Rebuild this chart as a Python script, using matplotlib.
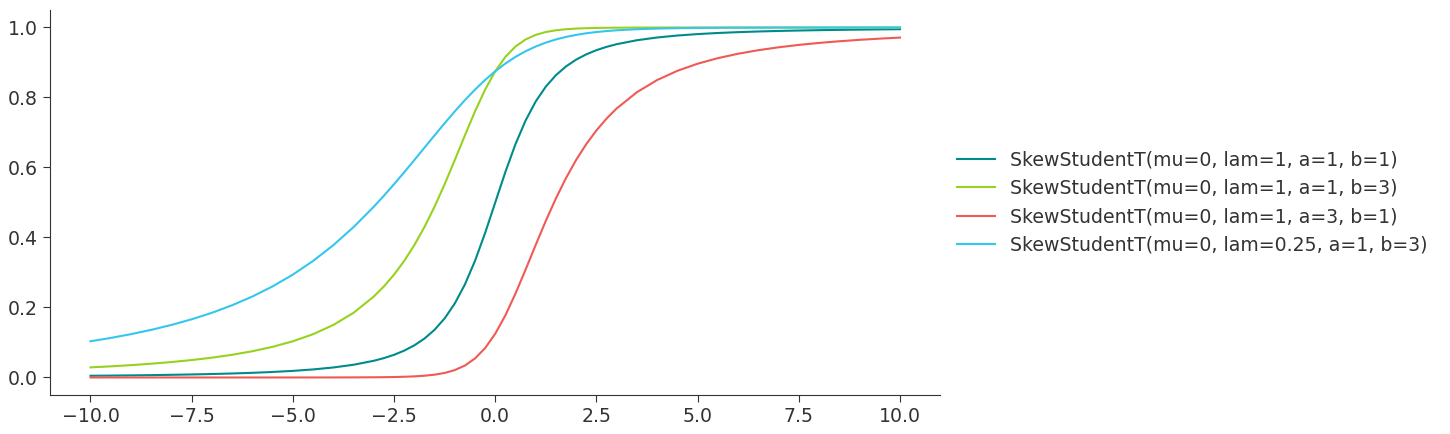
import matplotlib.pyplot as plt

x = [-10, -9.5, -9, -8.5, -8, -7.5, -7, -6.5, -6, -5.5, -5, -4.5, -4, -3.5,
     -3, -2.75, -2.5, -2.25, -2, -1.75, -1.5, -1.25, -1, -0.75, -0.5, -0.25,
     0, 0.25, 0.5, 0.75, 1, 1.25, 1.5, 1.75, 2, 2.25, 2.5, 2.75, 3,
     3.5, 4, 4.5, 5, 5.5, 6, 6.5, 7, 7.5, 8, 8.5, 9, 9.5, 10]

# CDF values per distribution
cdf_a1_b1 = [0.00492, 0.00544, 0.00606, 0.00678, 0.00763, 0.00866, 0.00990, 0.01143,
             0.01333, 0.01575, 0.01887, 0.02300, 0.02860, 0.03641,
             0.04774, 0.05535, 0.06481, 0.07668, 0.09175, 0.11111, 0.13620, 0.16887,
             0.21132, 0.26574, 0.33333, 0.41296,
             0.5, 0.58704, 0.66667, 0.73426, 0.78868, 0.83113, 0.86380, 0.88889,
             0.90825, 0.92332, 0.93519, 0.94465, 0.95226,
             0.96359, 0.97140, 0.97700, 0.98113, 0.98425, 0.98667, 0.98857, 0.99010,
             0.99134, 0.99237, 0.99322, 0.99394, 0.99456, 0.99508]

cdf_a1_b3 = [0.02885, 0.03183, 0.03529, 0.03936, 0.04412, 0.04979, 0.05662, 0.06487,
             0.07502, 0.08762, 0.10349, 0.12379, 0.15014, 0.18491,
             0.23136, 0.26033, 0.29400, 0.33305, 0.37814, 0.42976, 0.488, 0.55230,
             0.62112, 0.69169, 0.76021, 0.82248,
             0.875, 0.91598, 0.94568, 0.96585, 0.97889, 0.98702, 0.992, 0.99502,
             0.99686, 0.99799, 0.99869, 0.99913, 0.99941,
             0.99971, 0.99985, 0.99992, 0.99995, 0.99997, 0.99998, 0.99999, 0.999993,
             0.999995, 0.999997, 0.999998, 0.999998, 0.999999, 0.999999]

cdf_a3_b1 = [0.000001, 0.000001, 0.000002, 0.000002, 0.000003, 0.000005, 0.000007, 0.000011,
             0.000017, 0.000027, 0.000046, 0.00008, 0.000147, 0.000286,
             0.000592, 0.000875, 0.001315, 0.002014, 0.003141, 0.004978, 0.008, 0.012978,
             0.021115, 0.034151, 0.054324, 0.084019,
             0.125, 0.177519, 0.239795, 0.308312, 0.378882, 0.447697, 0.512, 0.570238,
             0.621863, 0.666953, 0.706002, 0.739671, 0.768639,
             0.815095, 0.849857, 0.876206, 0.896511, 0.912376, 0.924978, 0.935126, 0.943383,
             0.950210, 0.955876, 0.960643, 0.964709, 0.968169, 0.971152]

cdf_lam025 = [0.10349, 0.11300, 0.12379, 0.13608, 0.15014, 0.16630, 0.18491, 0.20641,
              0.23136, 0.26033, 0.29400, 0.33305, 0.37814, 0.42976,
              0.488, 0.51946, 0.55230, 0.58629, 0.62112, 0.65640, 0.69169, 0.72646,
              0.76021, 0.79237, 0.82248, 0.85012,
              0.875, 0.89696, 0.91598, 0.93216, 0.94568, 0.95681, 0.96585, 0.97311,
              0.97889, 0.98344, 0.98702, 0.98982, 0.992,
              0.99502, 0.99686, 0.99799, 0.99869, 0.99913, 0.99941, 0.99959, 0.99971,
              0.99980, 0.99985, 0.99989, 0.99992, 0.99994, 0.99995]

labels = ["SkewStudentT(mu=0, lam=1, a=1, b=1)",
          "SkewStudentT(mu=0, lam=1, a=1, b=3)",
          "SkewStudentT(mu=0, lam=1, a=3, b=1)",
          "SkewStudentT(mu=0, lam=0.25, a=1, b=3)"]
colors = ["#008b8b", "#96d21e", "#f05a55", "#35c6f0"]

fig = plt.figure(figsize=(14.5, 4.34), dpi=100)
ax = fig.add_axes([0.0345, 0.0899, 0.6141, 0.8871])

for ys, lab, col in zip([cdf_a1_b1, cdf_a1_b3, cdf_a3_b1, cdf_lam025], labels, colors):
    ax.plot(x, ys, color=col, lw=1.5, label=lab)

ax.set_xlim(-11, 11)
ax.set_ylim(-0.05, 1.05)
ax.set_xticks([-10, -7.5, -5, -2.5, 0, 2.5, 5, 7.5, 10])
ax.set_yticks([0, 0.2, 0.4, 0.6, 0.8, 1.0])
ax.spines["top"].set_visible(False)
ax.spines["right"].set_visible(False)
for s in ["left", "bottom"]:
    ax.spines[s].set_color("#333333")
ax.tick_params(labelsize=13.6, colors="#333333", length=5)

ax.legend(loc="center left", bbox_to_anchor=(1.0, 0.5), frameon=False,
          fontsize=13.6, handlelength=2.0, labelcolor="#333333")

plt.savefig("out.png")
